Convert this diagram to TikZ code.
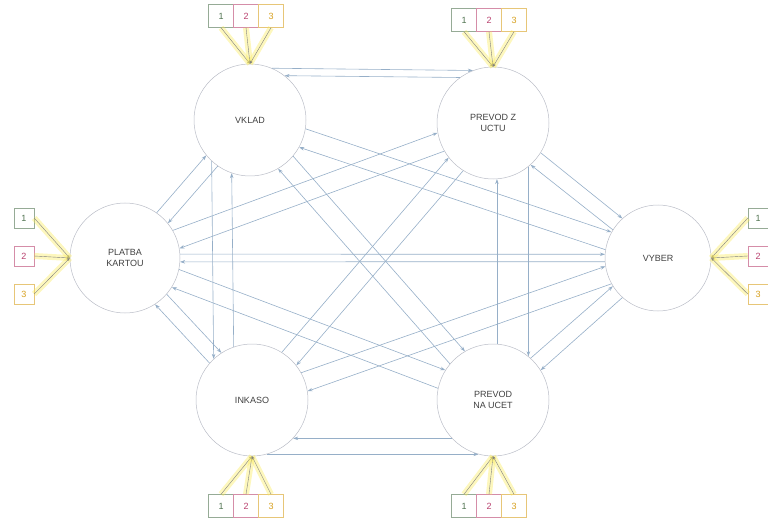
\documentclass[tikz,border=0pt]{standalone}
\usepackage{fontspec}
\setmainfont{Liberation Sans}
\usetikzlibrary{arrows.meta}
\definecolor{linkc}{RGB}{150,175,200}
\definecolor{ringc}{RGB}{185,188,198}
\definecolor{hl}{RGB}{250,235,90}
\definecolor{cone}{RGB}{80,115,80}
\definecolor{ctwo}{RGB}{185,65,110}
\definecolor{cthree}{RGB}{215,160,30}
\tikzset{
 state/.style={circle, draw=ringc, line width=0.5pt, minimum size=112pt, inner sep=0pt, align=center,
   font=\fontsize{9}{10.5}\selectfont, text=black!75},
 link/.style={draw=linkc, line width=0.6pt, -{Stealth[length=5pt,width=3.5pt]}},
 numbox/.style={draw=#1!60, fill=white, minimum width=25pt, minimum height=23pt, inner sep=0pt,
   font=\fontsize{9}{10}\selectfont, text=#1},
 sidebox/.style={numbox=#1, minimum width=20pt, minimum height=20pt},
 hlline/.style={draw=hl, line width=6pt, opacity=0.4},
 thinline/.style={draw=black!50, line width=0.4pt, -{Stealth[length=3pt,width=2.5pt]}},
}
\newcommand\pairlink[4]{%
 \pgfmathanglebetweenpoints{\pgfpointanchor{#1}{center}}{\pgfpointanchor{#2}{center}}%
 \let\pang\pgfmathresult
 \pgfmathtruncatemacro\pla{\pang+#3}%
 \pgfmathtruncatemacro\plb{\pang+180-#3}%
 \pgfmathtruncatemacro\plc{\pang+180+#4}%
 \pgfmathtruncatemacro\pld{\pang-#4}%
 \draw[link] (#1.\pla) -- (#2.\plb);
 \draw[link] (#2.\plc) -- (#1.\pld);
}
\begin{document}
\begin{tikzpicture}[x=1pt,y=1pt]
\useasboundingbox (0,0) rectangle (768,523);
% states
\node[state] (K) at (250,403) {VKLAD};
\node[state] (P) at (493,400) {PREVOD Z\\UCTU};
\node[state, minimum size=110pt] (L) at (125,265) {PLATBA\\KARTOU};
\node[state, minimum size=106pt] (V) at (658,265) {VYBER};
\node[state] (I) at (252,123) {INKASO};
\node[state] (N) at (493,123) {PREVOD\\NA UCET};
% links between states
\pairlink{K}{P}{68}{-53}
\pairlink{I}{N}{-75}{43}
\pairlink{K}{I}{-43}{19}
\pairlink{P}{N}{39}{-4}
\pairlink{K}{L}{8}{8}
\pairlink{I}{L}{8}{8}
\pairlink{P}{V}{8}{8}
\pairlink{N}{V}{8}{8}
\pairlink{L}{V}{4}{4}
\pairlink{K}{V}{10}{10}
\pairlink{K}{N}{10}{10}
\pairlink{P}{L}{10}{10}
\pairlink{P}{I}{10}{10}
\pairlink{I}{V}{10}{10}
\pairlink{N}{L}{10}{10}
% number boxes
\node[numbox=cone] (k1) at (221,507) {1};
\node[numbox=ctwo] (k2) at (246,507) {2};
\node[numbox=cthree] (k3) at (271,507) {3};
\node[numbox=cone] (p1) at (464,503) {1};
\node[numbox=ctwo] (p2) at (489,503) {2};
\node[numbox=cthree] (p3) at (514,503) {3};
\node[sidebox=cone] (l1) at (24,305) {1};
\node[sidebox=ctwo] (l2) at (24,267) {2};
\node[sidebox=cthree] (l3) at (24,229) {3};
\node[sidebox=cone] (v1) at (758,305) {1};
\node[sidebox=ctwo] (v2) at (758,267) {2};
\node[sidebox=cthree] (v3) at (758,229) {3};
\node[numbox=cone] (i1) at (221,17) {1};
\node[numbox=ctwo] (i2) at (246,17) {2};
\node[numbox=cthree] (i3) at (271,17) {3};
\node[numbox=cone] (n1) at (464,17) {1};
\node[numbox=ctwo] (n2) at (489,17) {2};
\node[numbox=cthree] (n3) at (514,17) {3};
% box connectors
\foreach \b in {k1,k2,k3}{\draw[hlline] (\b.south) -- (K.90); \draw[thinline] (\b.south) -- (K.90);}
\foreach \b in {p1,p2,p3}{\draw[hlline] (\b.south) -- (P.90); \draw[thinline] (\b.south) -- (P.90);}
\foreach \b in {l1,l2,l3}{\draw[hlline] (\b.east) -- (L.180); \draw[thinline] (\b.east) -- (L.180);}
\foreach \b in {v1,v2,v3}{\draw[hlline] (\b.west) -- (V.0); \draw[thinline] (\b.west) -- (V.0);}
\foreach \b in {i1,i2,i3}{\draw[hlline] (\b.north) -- (I.270); \draw[thinline] (\b.north) -- (I.270);}
\foreach \b in {n1,n2,n3}{\draw[hlline] (\b.north) -- (N.270); \draw[thinline] (\b.north) -- (N.270);}
\end{tikzpicture}
\end{document}
